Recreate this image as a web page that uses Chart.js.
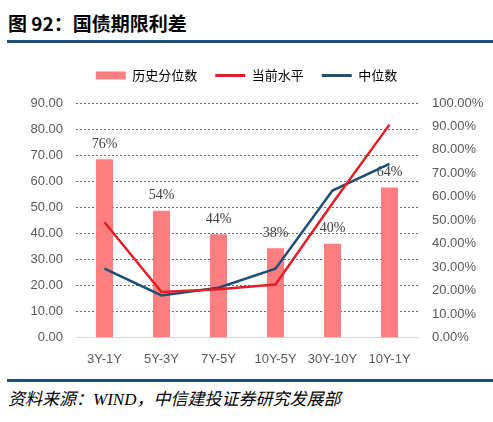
<!DOCTYPE html>
<html lang="zh">
<head>
    <meta charset="UTF-8">
    <title>国债期限利差</title>
    <style>
        body {
            margin: 0;
            width: 493px;
            height: 422px;
            background: #fff;
            position: relative;
            overflow: hidden;
            font-family: "Noto Sans CJK SC", "Liberation Sans", sans-serif;
        }
        .fig-title {
            position: absolute;
            left: 8px;
            top: 10px;
            font-size: 19px;
            font-weight: bold;
            color: #000;
            line-height: 26px;
        }
        .rule {
            position: absolute;
            left: 7px;
            width: 486px;
            height: 3px;
            background: #1f4e79;
        }
        #chartBox {
            position: absolute;
            left: 0;
            top: 43px;
            width: 493px;
            height: 330px;
        }
        .source {
            position: absolute;
            left: 8px;
            top: 389px;
            font-size: 17px;
            font-style: italic;
            color: #000;
            line-height: 22px;
            font-family: "Liberation Serif", "Noto Sans CJK SC", serif;
        }
    </style>
</head>
<body>
    <div class="fig-title">图 92：国债期限利差</div>
    <div class="rule" style="top:40px"></div>
    <div id="chartBox"><canvas id="spreadChart"></canvas></div>
    <div class="rule" style="top:379px"></div>
    <div class="source">资料来源：WIND，中信建投证券研究发展部</div>

    <script src="https://cdn.jsdelivr.net/npm/chart.js"></script>
    <script>
        // chart data
        const categories = ['3Y-1Y', '5Y-3Y', '7Y-5Y', '10Y-5Y', '30Y-10Y', '10Y-1Y'];
        const percentile = [76, 54, 44, 38, 40, 64];          // 历史分位数 (%), right axis
        const current = [44.2, 17.4, 18.5, 20.3, 51.5, 81.7];  // 当前水平, left axis
        const median = [26.4, 16.1, 19.1, 26.4, 56.4, 66.6];   // 中位数, left axis
        const seriesNames = ['历史分位数', '当前水平', '中位数'];

        const barColor = '#ff7f80';
        const redColor = '#e41e26';
        const blueColor = '#1d4e74';

        // percent labels above the bars
        const barLabels = {
            id: 'barLabels',
            afterDatasetDraw(chart, args) {
                if (args.index !== 0) return;
                const ctx = chart.ctx;
                ctx.save();
                ctx.font = '14px "Liberation Serif", "DejaVu Serif", serif';
                ctx.fillStyle = '#404040';
                ctx.textAlign = 'center';
                ctx.textBaseline = 'bottom';
                args.meta.data.forEach((bar, i) => {
                    ctx.fillText(percentile[i] + '%', bar.x, bar.y - 8);
                });
                ctx.restore();
            }
        };

        // extra room between legend and plot
        const legendGap = {
            id: 'legendGap',
            beforeInit(chart) {
                const fit = chart.legend.fit;
                chart.legend.fit = function () {
                    fit.bind(chart.legend)();
                    this.height += 11;
                };
            }
        };

        const ctx = document.getElementById('spreadChart').getContext('2d');
        new Chart(ctx, {
            type: 'bar',
            data: {
                labels: categories,
                datasets: [{
                    type: 'bar',
                    label: seriesNames[0],
                    data: percentile,
                    yAxisID: 'y1',
                    backgroundColor: barColor,
                    barPercentage: 0.3,
                    categoryPercentage: 1,
                    order: 3
                }, {
                    type: 'line',
                    label: seriesNames[1],
                    data: current,
                    yAxisID: 'y',
                    borderColor: redColor,
                    borderWidth: 2.5,
                    pointRadius: 0,
                    tension: 0,
                    order: 1
                }, {
                    type: 'line',
                    label: seriesNames[2],
                    data: median,
                    yAxisID: 'y',
                    borderColor: blueColor,
                    borderWidth: 2.5,
                    pointRadius: 0,
                    tension: 0,
                    order: 2
                }]
            },
            options: {
                responsive: true,
                maintainAspectRatio: false,
                animation: false,
                layout: { padding: { top: 8, bottom: 0, left: 0, right: 0 } },
                plugins: {
                    tooltip: { enabled: false },
                    legend: {
                        position: 'top',
                        labels: {
                            usePointStyle: true,
                            pointStyleWidth: 30,
                            boxHeight: 8,
                            padding: 18,
                            color: '#595959',
                            font: { size: 13, family: '"Noto Sans CJK SC", sans-serif' },
                            generateLabels() {
                                return [
                                    { text: seriesNames[0], fillStyle: barColor, strokeStyle: barColor, lineWidth: 0, pointStyle: 'rect', datasetIndex: 0 },
                                    { text: seriesNames[1], fillStyle: redColor, strokeStyle: redColor, lineWidth: 3, pointStyle: 'line', datasetIndex: 1 },
                                    { text: seriesNames[2], fillStyle: blueColor, strokeStyle: blueColor, lineWidth: 3, pointStyle: 'line', datasetIndex: 2 }
                                ];
                            }
                        }
                    }
                },
                scales: {
                    x: {
                        grid: { display: false },
                        border: { display: true, color: '#d9d9d9', width: 1 },
                        ticks: {
                            color: '#595959',
                            padding: 6,
                            font: { size: 13, family: '"Liberation Sans", Arial, sans-serif' }
                        }
                    },
                    y: {
                        position: 'left',
                        min: 0,
                        max: 90,
                        afterFit(scale) { scale.width = 76; },
                        grid: {
                            drawTicks: false,
                            color: (c) => c.tick && c.tick.value === 0 ? 'rgba(0,0,0,0)' : '#444',
                            lineWidth: 0.8
                        },
                        border: { display: false, dash: [2, 2] },
                        ticks: {
                            stepSize: 10,
                            padding: 13,
                            color: '#595959',
                            font: { size: 13, family: '"Liberation Sans", Arial, sans-serif' },
                            callback: (v) => v.toFixed(2)
                        }
                    },
                    y1: {
                        position: 'right',
                        min: 0,
                        max: 100,
                        afterFit(scale) { scale.width = 75; },
                        grid: { display: false, drawTicks: false },
                        border: { display: false },
                        ticks: {
                            stepSize: 10,
                            padding: 14,
                            color: '#595959',
                            font: { size: 13, family: '"Liberation Sans", Arial, sans-serif' },
                            callback: (v) => v.toFixed(2) + '%'
                        }
                    }
                }
            },
            plugins: [barLabels, legendGap]
        });
    </script>
</body>
</html>
